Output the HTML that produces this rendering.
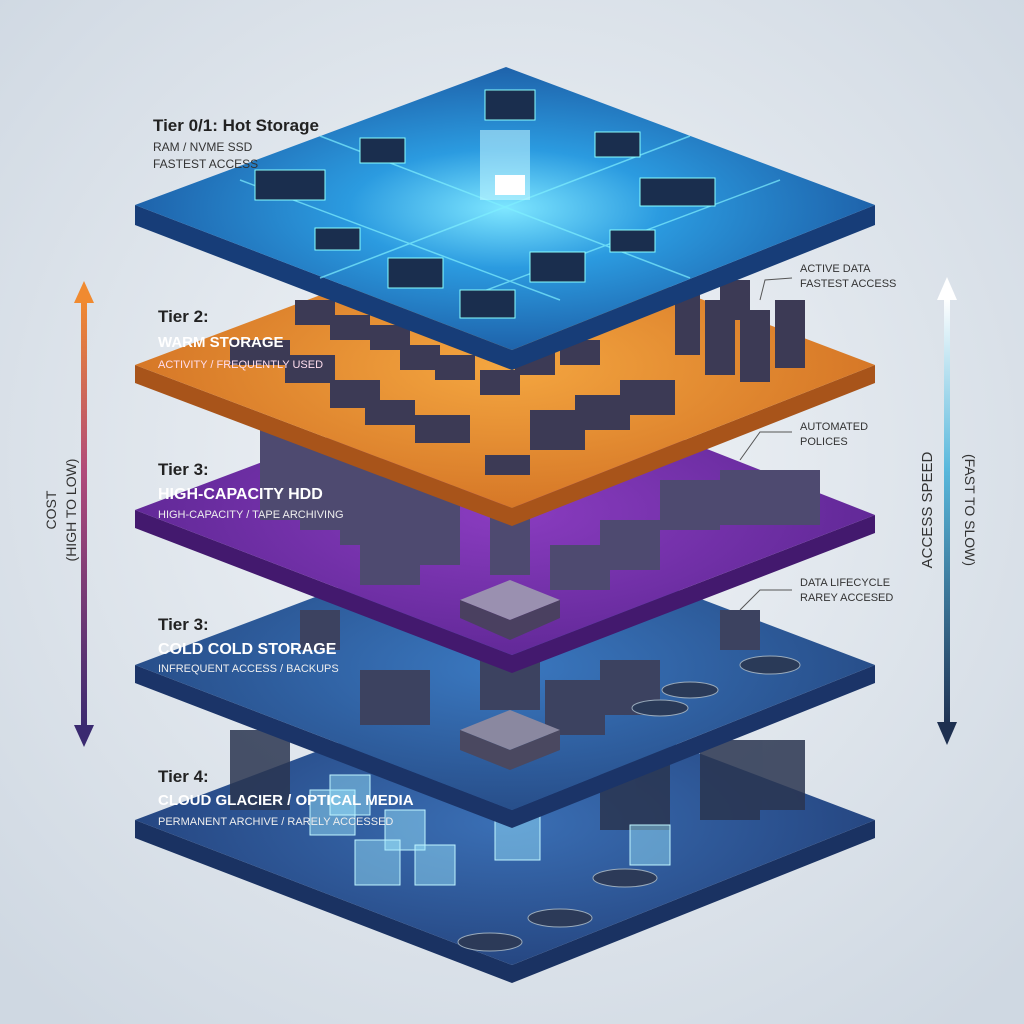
<!DOCTYPE html>
<html><head><meta charset="utf-8"><style>
html,body{margin:0;padding:0;width:1024px;height:1024px;overflow:hidden;background:#e4eaf0}
svg{display:block}
text{font-family:"Liberation Sans",sans-serif}
</style></head><body>
<svg width="1024" height="1024" viewBox="0 0 1024 1024" xmlns="http://www.w3.org/2000/svg">
<defs>
<radialGradient id="bg" cx="50%" cy="45%" r="70%"><stop offset="0" stop-color="#f2f5f8"/><stop offset="1" stop-color="#cfd8e2"/></radialGradient>
<radialGradient id="g1" cx="50%" cy="50%" r="60%"><stop offset="0" stop-color="#7ee6ff"/><stop offset="0.35" stop-color="#2b9be0"/><stop offset="1" stop-color="#1a4f98"/></radialGradient>
<radialGradient id="g2" cx="50%" cy="50%" r="60%"><stop offset="0" stop-color="#f4a640"/><stop offset="1" stop-color="#d06e22"/></radialGradient>
<radialGradient id="g3" cx="50%" cy="50%" r="60%"><stop offset="0" stop-color="#8a3cc0"/><stop offset="1" stop-color="#5a2590"/></radialGradient>
<radialGradient id="g4" cx="50%" cy="50%" r="60%"><stop offset="0" stop-color="#3a78c0"/><stop offset="1" stop-color="#24467f"/></radialGradient>
<radialGradient id="g5" cx="50%" cy="50%" r="60%"><stop offset="0" stop-color="#3a6fb5"/><stop offset="1" stop-color="#223f78"/></radialGradient>
<linearGradient id="la" x1="0" y1="0" x2="0" y2="1"><stop offset="0" stop-color="#f08a30"/><stop offset="0.4" stop-color="#b04a7a"/><stop offset="1" stop-color="#3a2a70"/></linearGradient>
<linearGradient id="ra" x1="0" y1="0" x2="0" y2="1"><stop offset="0" stop-color="#ffffff"/><stop offset="0.4" stop-color="#58b8dc"/><stop offset="1" stop-color="#1e3050"/></linearGradient>
</defs>
<rect width="1024" height="1024" fill="url(#bg)"/>

<!-- Layer 5 -->
<g>
<polygon points="135,820 512,965 875,820 875,838 512,983 135,838" fill="#1a3262"/>
<polygon points="506,680 875,820 512,965 135,820" fill="url(#g5)"/>
<g fill="#2a3550" opacity="0.85">
<rect x="230" y="730" width="60" height="80"/><rect x="600" y="740" width="70" height="90"/><rect x="700" y="740" width="60" height="80"/><rect x="760" y="740" width="45" height="70"/>
</g>
<g fill="#9ee8ff" fill-opacity="0.45" stroke="#bff4ff">
<rect x="310" y="790" width="45" height="45"/><rect x="330" y="775" width="40" height="40"/><rect x="385" y="810" width="40" height="40"/><rect x="355" y="840" width="45" height="45"/><rect x="495" y="815" width="45" height="45"/><rect x="415" y="845" width="40" height="40"/><rect x="630" y="825" width="40" height="40"/>
</g>
<g fill="#2c3a58" stroke="#9ab">
<ellipse cx="490" cy="942" rx="32" ry="9"/><ellipse cx="560" cy="918" rx="32" ry="9"/><ellipse cx="625" cy="878" rx="32" ry="9"/>
</g>
</g>

<!-- Layer 4 -->
<g>
<polygon points="135,665 512,810 875,665 875,683 512,828 135,683" fill="#1b3468"/>
<polygon points="506,525 875,665 512,810 135,665" fill="url(#g4)"/>
<g fill="#3c4260">
<rect x="360" y="670" width="70" height="55"/><rect x="480" y="660" width="60" height="50"/><rect x="545" y="680" width="60" height="55"/><rect x="600" y="660" width="60" height="55"/><rect x="300" y="610" width="40" height="40"/><rect x="720" y="610" width="40" height="40"/>
</g>
<g fill="#2a3a58" stroke="#9ab"><ellipse cx="770" cy="665" rx="30" ry="9"/><ellipse cx="690" cy="690" rx="28" ry="8"/><ellipse cx="660" cy="708" rx="28" ry="8"/></g>
<polygon points="460,730 510,710 560,730 510,750" fill="#8a88a0"/><polygon points="460,730 510,750 560,730 560,750 510,770 460,750" fill="#4a4860"/>
</g>

<!-- Layer 3 -->
<g>
<polygon points="135,510 512,655 875,515 875,533 512,673 135,528" fill="#43196e"/>
<polygon points="506,370 875,515 512,655 135,510" fill="url(#g3)"/>
<g fill="#4e4a70">
<rect x="260" y="430" width="40" height="90"/><rect x="300" y="440" width="40" height="90"/><rect x="340" y="455" width="40" height="90"/><rect x="380" y="470" width="40" height="90"/><rect x="420" y="485" width="40" height="80"/><rect x="490" y="505" width="40" height="70"/>
<rect x="360" y="535" width="60" height="50"/><rect x="550" y="545" width="60" height="45"/><rect x="600" y="520" width="60" height="50"/><rect x="660" y="480" width="60" height="50"/><rect x="720" y="470" width="100" height="55"/>
</g>
<polygon points="460,600 510,580 560,600 510,620" fill="#9a90b0"/><polygon points="460,600 510,620 560,600 560,618 510,640 460,618" fill="#4a4060"/>
</g>

<!-- Layer 2 -->
<g>
<polygon points="135,365 512,508 875,365 875,383 512,526 135,383" fill="#a8541a"/>
<polygon points="506,225 875,365 512,508 135,365" fill="url(#g2)"/>
<g fill="#3c3a55">
<rect x="230" y="340" width="60" height="25"/><rect x="285" y="355" width="50" height="28"/><rect x="330" y="380" width="50" height="28"/><rect x="365" y="400" width="50" height="25"/><rect x="415" y="415" width="55" height="28"/><rect x="485" y="455" width="45" height="20"/>
<rect x="530" y="410" width="55" height="40"/><rect x="575" y="395" width="55" height="35"/><rect x="620" y="380" width="55" height="35"/>
<rect x="295" y="300" width="40" height="25"/><rect x="330" y="315" width="40" height="25"/><rect x="370" y="325" width="40" height="25"/><rect x="400" y="345" width="40" height="25"/><rect x="435" y="355" width="40" height="25"/><rect x="480" y="370" width="40" height="25"/><rect x="515" y="350" width="40" height="25"/><rect x="560" y="340" width="40" height="25"/>
<rect x="675" y="290" width="25" height="65"/><rect x="705" y="300" width="30" height="75"/><rect x="740" y="310" width="30" height="72"/><rect x="775" y="300" width="30" height="68"/><rect x="720" y="280" width="30" height="40"/>
</g>
</g>

<!-- Layer 1 -->
<g>
<polygon points="135,205 512,350 875,205 875,225 512,370 135,225" fill="#173d78"/>
<polygon points="506,67 875,205 512,350 135,205" fill="url(#g1)"/>
<g stroke="#7ff0ff" stroke-width="1.5" fill="none" opacity="0.7">
<line x1="320" y1="136" x2="690" y2="278"/><line x1="690" y1="136" x2="320" y2="278"/>
<line x1="240" y1="180" x2="560" y2="300"/><line x1="780" y1="180" x2="460" y2="300"/>
</g>
<g fill="#1a2e4e" stroke="#8ff" stroke-width="1">
<rect x="485" y="90" width="50" height="30"/><rect x="360" y="138" width="45" height="25"/><rect x="595" y="132" width="45" height="25"/>
<rect x="255" y="170" width="70" height="30"/><rect x="640" y="178" width="75" height="28"/>
<rect x="315" y="228" width="45" height="22"/><rect x="610" y="230" width="45" height="22"/>
<rect x="388" y="258" width="55" height="30"/><rect x="530" y="252" width="55" height="30"/>
<rect x="460" y="290" width="55" height="28"/>
</g>
<rect x="480" y="130" width="50" height="70" fill="#c8f8ff" opacity="0.55"/>
<rect x="495" y="175" width="30" height="20" fill="#fff"/>
</g>

<!-- Left arrow -->
<rect x="81" y="300" width="6" height="430" fill="url(#la)"/>
<polygon points="74,303 84,281 94,303" fill="#f08a30"/>
<polygon points="74,725 84,747 94,725" fill="#3a2a70"/>
<text transform="translate(56,510) rotate(-90)" text-anchor="middle" font-size="14" fill="#333">COST</text>
<text transform="translate(76,510) rotate(-90)" text-anchor="middle" font-size="14" fill="#333">(HIGH TO LOW)</text>

<!-- Right arrow -->
<rect x="944" y="298" width="6" height="430" fill="url(#ra)"/>
<polygon points="937,300 947,277 957,300" fill="#fff"/>
<polygon points="937,722 947,745 957,722" fill="#1e3050"/>
<text transform="translate(932,510) rotate(-90)" text-anchor="middle" font-size="15" fill="#333">ACCESS SPEED</text>
<text transform="translate(965,510) rotate(90)" text-anchor="middle" font-size="14" fill="#333">(FAST TO SLOW)</text>

<!-- Labels -->
<text x="153" y="131" font-size="17" font-weight="bold" fill="#222">Tier 0/1: Hot Storage</text>
<text x="153" y="151" font-size="12" fill="#333">RAM / NVME SSD</text>
<text x="153" y="168" font-size="12" fill="#333">FASTEST ACCESS</text>

<text x="158" y="322" font-size="17" font-weight="bold" fill="#222">Tier 2:</text>
<text x="158" y="347" font-size="15" font-weight="bold" fill="#fff">WARM STORAGE</text>
<text x="158" y="368" font-size="11" fill="#fde">ACTIVITY / FREQUENTLY USED</text>

<text x="158" y="475" font-size="17" font-weight="bold" fill="#222">Tier 3:</text>
<text x="158" y="499" font-size="16" font-weight="bold" fill="#fff">HIGH-CAPACITY HDD</text>
<text x="158" y="518" font-size="11" fill="#eee">HIGH-CAPACITY / TAPE ARCHIVING</text>

<text x="158" y="630" font-size="17" font-weight="bold" fill="#222">Tier 3:</text>
<text x="158" y="654" font-size="16" font-weight="bold" fill="#fff">COLD COLD STORAGE</text>
<text x="158" y="672" font-size="11" fill="#eee">INFREQUENT ACCESS / BACKUPS</text>

<text x="158" y="782" font-size="17" font-weight="bold" fill="#222">Tier 4:</text>
<text x="158" y="805" font-size="15" font-weight="bold" fill="#fff">CLOUD GLACIER / OPTICAL MEDIA</text>
<text x="158" y="825" font-size="11" fill="#eee">PERMANENT ARCHIVE / RARELY ACCESSED</text>

<g stroke="#555" fill="none"><polyline points="760,300 765,280 792,278"/><polyline points="740,460 760,432 792,432"/><polyline points="740,610 760,590 792,590"/></g>
<text x="800" y="272" font-size="11" fill="#333">ACTIVE DATA</text>
<text x="800" y="287" font-size="11" fill="#333">FASTEST ACCESS</text>
<text x="800" y="430" font-size="11" fill="#333">AUTOMATED</text>
<text x="800" y="445" font-size="11" fill="#333">POLICES</text>
<text x="800" y="586" font-size="11" fill="#333">DATA LIFECYCLE</text>
<text x="800" y="601" font-size="11" fill="#333">RAREY ACCESED</text>
</svg>
</body></html>
